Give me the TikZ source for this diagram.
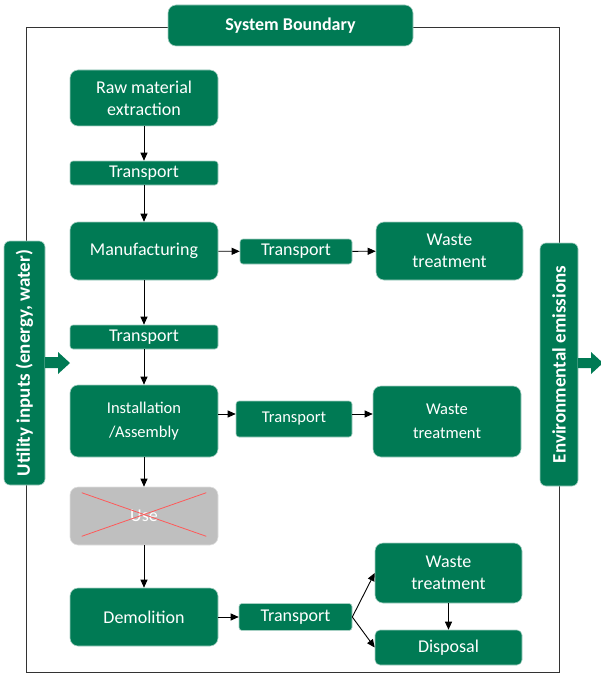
\documentclass[tikz,border=0pt]{standalone}
\usepackage{fontspec}
\setmainfont{Carlito}
\usetikzlibrary{positioning,arrows.meta}
\definecolor{lcagreen}{RGB}{0,122,84}
\definecolor{usegray}{RGB}{191,191,191}
\tikzset{
  stage/.style={rectangle, rounded corners=8pt, minimum width=148pt, minimum height=58pt, text centered, align=center, draw=lcagreen!35, line width=0.6pt, fill=lcagreen, text=white, inner sep=2pt, font=\fontsize{18}{22}\selectfont},
  trans/.style={stage, rounded corners=3pt, minimum height=24pt},
  side/.style={stage, rotate=90, rounded corners=6pt, font=\bfseries\fontsize{19}{22}\selectfont},
  arr/.style={-{Triangle[length=8pt,width=7pt]}, line width=0.9pt},
  smalltxt/.style={font=\fontsize{16.5}{24}\selectfont}
}
\begin{document}
\begin{tikzpicture}[x=1pt, y=-1pt]
	\useasboundingbox (0,0) rectangle (601,674);
	\draw[line width=0.9pt, black!80] (26,27) rectangle (559,672.5);
	\node[stage, minimum width=245pt, minimum height=41pt, font=\bfseries\fontsize{18}{22}\selectfont] (sysb) at (290.5,25.5) {System Boundary};
	% main column
	\node[stage, minimum height=56pt] (raw) at (144,98) {Raw material\\extraction};
	\node[trans] (t1) at (144,173) {Transport};
	\node[stage] (mfg) at (144,251) {Manufacturing};
	\node[trans] (t2) at (144,337) {Transport};
	\node[stage, smalltxt, minimum height=72pt] (inst) at (144,421) {Installation\\/Assembly};
	\node[stage, fill=usegray, draw=black!12] (use) at (144,516) {Use};
	\node[stage] (demo) at (144,617) {Demolition};
	% side branches
	\node[trans, minimum width=112pt, minimum height=25pt] (tm) at (296,251.5) {Transport};
	\node[stage, minimum width=147pt] (w1) at (449.5,251) {Waste\\treatment};
	\node[trans, smalltxt, minimum width=116pt, minimum height=36pt] (ti) at (294,419) {Transport};
	\node[stage, smalltxt, minimum height=71pt] (w2) at (447,421.5) {Waste\\treatment};
	\node[trans, minimum width=113pt, minimum height=27pt] (td) at (295.5,617) {Transport};
	\node[stage, minimum width=147pt, minimum height=60pt] (w3) at (448.5,573) {Waste\\treatment};
	\node[trans, minimum width=147pt, minimum height=35pt, rounded corners=5pt] (disp) at (448.5,647.5) {Disposal};
	% inputs / outputs
	\node[side, minimum width=244pt, minimum height=41pt] (util) at (24.5,363) {Utility inputs (energy, water)};
	\node[side, minimum width=243pt, minimum height=38pt] (env) at (559,364.5) {Environmental emissions};
	\fill[lcagreen] (45,357) -- (58,357) -- (58,352) -- (70,363) -- (58,374) -- (58,368) -- (45,368) -- cycle;
	\fill[lcagreen] (578,358) -- (591,358) -- (591,352) -- (603,363) -- (591,374) -- (591,368) -- (578,368) -- cycle;
	%
	\draw[red!65, line width=0.8pt] ([shift={(12,6)}]use.north west) -- ([shift={(-12,-9)}]use.south east);
	\draw[red!65, line width=0.8pt] ([shift={(12,-9)}]use.south west) -- ([shift={(-12,6)}]use.north east);
	%
	\coordinate (irow) at (0,414);
	\draw[arr] (raw) -- (t1);
	\draw[arr] (t1) -- (mfg);
	\draw[arr] (mfg) -- (t2);
	\draw[arr] (t2) -- (inst);
	\draw[arr] (inst) -- (use);
	\draw[arr] (use) -- (demo);
	\draw[arr] (mfg) -- (tm);
	\draw[arr] (tm) -- (w1);
	\draw[arr] (inst.east |- irow) -- (ti.west |- irow);
	\draw[arr] (ti.east |- irow) -- (w2.west |- irow);
	\draw[arr] (demo) -- (td);
	\draw[arr] (td.east) -- (w3.west);
	\draw[arr] (td.east) -- (disp.west);
	\draw[arr] (w3) -- (disp);
\end{tikzpicture}
\end{document}
